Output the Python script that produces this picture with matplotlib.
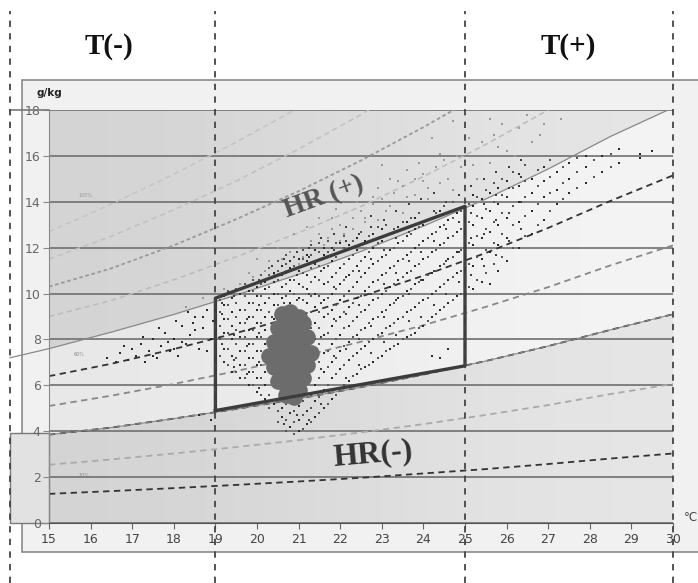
import matplotlib.pyplot as plt
from matplotlib.patches import Rectangle
from matplotlib.colors import LinearSegmentedColormap

# relative humidity curves (g/kg)
rh_T = [15, 16.5, 18, 19.5, 21, 22.5, 24, 25.5, 27, 28.5, 30]
rh10 = [1.27, 1.39, 1.52, 1.66, 1.81, 1.97, 2.16, 2.35, 2.57, 2.81, 3.03]
rh20 = [2.54, 2.77, 3.03, 3.31, 3.61, 3.95, 4.31, 4.71, 5.14, 5.62, 6.06]
rh30 = [3.85, 4.16, 4.55, 4.97, 5.42, 5.92, 6.47, 7.06, 7.71, 8.42, 9.1]
rh40 = [5.1, 5.55, 6.06, 6.62, 7.23, 7.9, 8.62, 9.42, 10.28, 11.23, 12.1]
rh50 = [6.4, 6.94, 7.58, 8.28, 9.04, 9.87, 10.78, 11.77, 12.86, 14.04, 15.15]
rh60 = [7.6, 8.32, 9.09, 9.93, 10.84, 11.84, 12.94, 14.12, 15.43, 16.85, 18.1]
rh70 = [9.0, 9.7, 10.6, 11.6, 12.65, 13.8, 15.1, 16.5, 18.0]
rh80 = [10.3, 11.1, 12.1, 13.24, 14.46, 15.8, 17.25, 18.8]
rh90 = [11.5, 12.5, 13.65, 14.9, 16.3, 17.8, 19.4]
rh100 = [12.7, 13.9, 15.2, 16.6, 18.1]

# comfort box
box_T = [19, 19, 25, 25, 19]
box_w = [4.9, 9.8, 13.8, 6.85, 4.9]

zone_edges = [14.06, 19, 25, 30]

# measured points, dark ones by column
left_T = [16.4, 16.6, 16.7, 16.9, 17.0, 17.1, 17.2, 17.3, 17.4, 17.5, 17.6, 17.7, 17.8, 17.9,
          18.0, 18.1, 18.2, 18.3, 18.4, 18.5, 18.6, 18.7, 18.8, 18.9, 18.95, 18.5, 18.0, 17.5,
          18.8, 18.2, 18.6, 18.9, 16.8, 17.25, 17.65, 18.05, 18.45, 18.7, 18.35, 17.85]
left_w = [7.2, 7.0, 7.4, 7.1, 7.6, 7.3, 7.8, 7.0, 7.5, 8.0, 7.2, 7.7, 8.3, 7.5,
          8.0, 7.3, 8.6, 7.8, 8.2, 9.0, 7.6, 8.5, 9.3, 8.0, 8.8, 8.4, 7.6, 7.3,
          7.5, 7.9, 4.7, 4.5, 7.7, 8.1, 8.5, 8.8, 8.7, 9.0, 9.2, 7.9]

col_T = [19.2, 19.4, 19.6, 19.8, 20.0, 20.2, 20.4, 20.6, 20.8, 21.0, 21.2, 21.4, 21.6, 21.8,
         22.0, 22.2, 22.4, 22.6, 22.8, 23.0, 23.2, 23.4, 23.6, 23.8, 24.0, 24.2, 24.4, 24.6,
         24.8, 25.2, 25.4, 25.6, 25.8, 26.0, 26.3, 26.6, 26.9, 27.2, 27.5, 27.9, 28.3, 28.7,
         29.2, 29.5]
col_w = [
    [7.0, 7.6, 8.3, 8.9, 9.5, 9.9],
    [6.6, 7.3, 8.0, 8.6, 9.2, 9.8],
    [6.3, 6.9, 7.5, 8.1, 8.7, 9.3, 10.0],
    [6.0, 6.6, 7.2, 7.8, 8.4, 9.0, 9.6, 10.1],
    [5.7, 6.3, 6.9, 7.5, 8.1, 8.7, 9.3, 9.9, 10.3],
    [5.4, 6.0, 6.6, 7.8, 8.4, 9.0, 9.6, 10.2, 10.5],
    [5.2, 8.9, 9.5, 10.0, 10.5, 10.9],
    [4.6, 5.0, 9.3, 9.8, 10.3, 10.8, 11.2],
    [4.2, 4.8, 9.6, 10.1, 10.6, 11.1, 11.4],
    [4.0, 4.5, 5.1, 9.2, 9.8, 10.4, 11.0, 11.5],
    [4.3, 4.9, 8.9, 9.6, 10.2, 10.8, 11.4, 11.7],
    [4.6, 5.3, 6.0, 7.2, 8.0, 8.7, 9.4, 10.0, 10.7, 11.3, 11.9],
    [5.0, 5.8, 6.6, 7.4, 8.2, 9.0, 9.7, 10.4, 11.1, 11.7, 12.0],
    [5.4, 6.3, 7.0, 7.8, 8.6, 9.3, 10.0, 10.7, 11.4, 12.0],
    [5.9, 6.7, 7.5, 8.2, 9.0, 9.7, 10.4, 11.1, 11.8, 12.2],
    [6.2, 7.1, 7.9, 8.6, 9.4, 10.1, 10.8, 11.5, 12.1],
    [6.5, 7.4, 8.2, 9.0, 9.8, 10.5, 11.2, 11.9, 12.4],
    [6.8, 7.7, 8.5, 9.3, 10.1, 10.9, 11.6, 12.3],
    [7.0, 8.0, 8.9, 9.7, 10.5, 11.3, 12.0, 12.6],
    [7.3, 8.3, 9.2, 10.0, 10.8, 11.6, 12.3, 12.8],
    [7.6, 8.6, 9.5, 10.3, 11.1, 11.9, 12.6],
    [7.8, 8.9, 9.8, 10.6, 11.4, 12.2, 12.9],
    [8.1, 9.2, 10.1, 10.9, 11.7, 12.5, 13.1],
    [8.3, 9.4, 10.4, 11.2, 12.0, 12.8, 13.3],
    [8.6, 9.7, 10.6, 11.5, 12.3, 13.0],
    [7.3, 9.0, 10.0, 10.9, 11.8, 12.6, 13.3],
    [7.2, 9.3, 10.3, 11.2, 12.1, 12.9, 13.6],
    [7.6, 9.6, 10.6, 11.5, 12.4, 13.2],
    [9.9, 10.9, 11.8, 12.7, 13.5],
    [10.2, 11.2, 12.1, 13.0, 13.8, 14.3],
    [10.5, 11.5, 12.4, 13.3, 14.1],
    [10.4, 11.8, 12.7, 13.6, 14.4],
    [11.0, 12.1, 13.0, 13.9, 14.6],
    [11.4, 12.4, 13.3, 14.2, 14.9],
    [12.0, 13.1, 14.0, 14.7, 15.2],
    [12.6, 13.6, 14.4, 15.0],
    [13.2, 14.2, 14.9, 15.5],
    [13.9, 14.5, 15.3],
    [14.4, 15.0, 15.7],
    [14.8, 15.5, 16.0],
    [15.3, 16.0],
    [15.7, 16.3],
    [15.9, 16.1],
    [16.2],
]

col2_T = [19.1, 19.3, 19.5, 19.7, 19.9, 20.1, 20.3, 20.5, 20.7, 20.9, 21.1, 21.3, 21.5, 21.7,
          21.9, 22.1, 22.3, 22.5, 22.7, 22.9, 23.1, 23.3, 23.5, 23.7, 23.9, 24.1, 24.3, 24.5,
          24.7, 24.9, 25.1, 25.3, 25.5, 25.7, 25.9, 26.15, 26.45, 26.75, 27.05, 27.35, 27.7,
          28.1, 28.5]
col2_w = [
    [7.3, 8.0, 8.6, 9.2, 9.7],
    [6.9, 7.6, 8.3, 8.9, 9.5, 10.1],
    [6.6, 7.2, 7.8, 8.4, 9.0, 9.6, 10.2],
    [6.3, 6.9, 7.5, 8.1, 8.7, 9.3, 9.9, 10.4],
    [6.0, 6.6, 7.2, 7.8, 8.4, 9.0, 9.6, 10.1, 10.6],
    [5.6, 6.3, 6.9, 7.5, 8.1, 8.7, 9.3, 9.9, 10.4, 10.8],
    [5.0, 5.6, 9.2, 9.8, 10.3, 10.8, 11.1],
    [4.4, 4.9, 9.5, 10.0, 10.6, 11.0, 11.4],
    [4.0, 4.5, 5.2, 9.9, 10.4, 10.9, 11.3, 11.7],
    [3.9, 4.4, 4.9, 9.4, 10.0, 10.6, 11.2, 11.6],
    [4.1, 4.7, 5.3, 9.1, 9.7, 10.3, 10.9, 11.5, 11.9],
    [4.4, 5.0, 5.6, 8.5, 9.2, 9.9, 10.5, 11.1, 11.7, 12.1],
    [4.8, 5.5, 6.3, 7.0, 7.8, 8.5, 9.2, 9.9, 10.6, 11.2, 11.8, 12.2],
    [5.2, 6.0, 6.8, 7.5, 8.3, 9.1, 9.8, 10.5, 11.2, 11.8, 12.3],
    [5.6, 6.5, 7.2, 8.0, 8.8, 9.5, 10.2, 10.9, 11.6, 12.2],
    [6.0, 6.9, 7.7, 8.5, 9.2, 9.9, 10.6, 11.3, 12.0, 12.5],
    [6.4, 7.3, 8.1, 8.8, 9.6, 10.3, 11.0, 11.7, 12.3],
    [6.7, 7.6, 8.4, 9.2, 9.9, 10.7, 11.4, 12.1, 12.7],
    [6.9, 7.9, 8.7, 9.5, 10.3, 11.1, 11.8, 12.5],
    [7.2, 8.2, 9.0, 9.8, 10.6, 11.4, 12.2, 12.9],
    [7.5, 8.5, 9.3, 10.1, 10.9, 11.7, 12.5, 13.0],
    [7.7, 8.7, 9.6, 10.4, 11.2, 12.0, 12.8],
    [8.0, 9.0, 9.9, 10.7, 11.5, 12.3, 13.1],
    [8.2, 9.3, 10.2, 11.0, 11.8, 12.6, 13.3],
    [8.5, 9.6, 10.5, 11.3, 12.1, 12.9, 13.5],
    [8.8, 9.8, 10.8, 11.6, 12.4, 13.2],
    [9.1, 10.1, 11.0, 11.9, 12.7, 13.5],
    [9.4, 10.4, 11.3, 12.2, 13.0, 13.8],
    [9.7, 10.7, 11.6, 12.5, 13.3, 14.0],
    [10.0, 11.0, 11.9, 12.8, 13.6],
    [10.3, 11.3, 12.2, 13.1, 13.9],
    [10.6, 11.6, 12.5, 13.4, 14.2],
    [10.9, 11.9, 12.8, 13.7, 14.5],
    [11.3, 12.2, 13.1, 14.0, 14.8],
    [11.6, 12.6, 13.5, 14.3, 15.0],
    [12.0, 13.0, 13.8, 14.6, 15.3],
    [12.5, 13.4, 14.2, 14.9, 15.6],
    [13.0, 13.9, 14.7, 15.4],
    [13.6, 14.4, 15.1, 15.8],
    [14.1, 14.8, 15.5],
    [14.6, 15.3, 15.9],
    [15.1, 15.8],
    [15.5, 16.1],
]

col3_T = [19.15, 19.45, 19.75, 20.05, 20.35, 20.65, 20.95, 21.25, 21.55, 21.85, 22.15, 22.45,
          22.75, 23.05, 23.35, 23.65, 23.95, 24.25, 24.55, 24.85, 25.15, 25.45, 25.75, 26.05,
          26.35]
col3_w = [
    [7.8, 9.1, 9.6],
    [6.8, 7.1, 8.2, 9.9],
    [6.5, 7.7, 8.9, 10.3],
    [5.9, 7.0, 8.3, 9.5, 10.6],
    [5.3, 9.0, 10.7, 11.2],
    [4.3, 9.6, 10.9, 11.5],
    [4.7, 5.3, 9.7, 10.8, 11.8],
    [4.5, 8.8, 10.0, 11.6, 12.0],
    [5.2, 6.7, 8.1, 9.6, 11.0, 12.4],
    [5.8, 7.3, 8.9, 10.3, 11.9, 12.6],
    [6.3, 7.6, 9.1, 10.7, 12.3, 12.9],
    [6.9, 8.0, 9.5, 11.0, 12.6],
    [7.4, 8.6, 10.0, 11.5, 12.9, 13.4],
    [7.9, 9.0, 10.4, 11.9, 13.2],
    [8.2, 9.7, 10.9, 12.4, 13.6],
    [8.8, 10.0, 11.4, 12.7, 13.9],
    [9.0, 10.6, 11.8, 13.1, 14.1],
    [9.5, 11.0, 12.3, 13.6, 14.4],
    [10.0, 11.4, 12.8, 14.0],
    [10.5, 11.8, 13.1, 14.3],
    [10.8, 12.4, 13.5, 14.7],
    [11.2, 12.6, 13.9, 15.0],
    [11.7, 13.2, 14.3, 15.3],
    [12.3, 13.5, 14.6, 15.5],
    [12.8, 14.0, 15.1, 15.8],
]

# lighter points above the box
light_T = [19.6, 19.9, 20.2, 20.4, 20.6, 20.8, 21.0, 21.1, 21.3, 21.5, 21.6, 21.8, 22.0, 22.1,
           22.3, 22.5, 22.6, 22.8, 23.0, 23.1, 23.3, 23.5, 23.6, 23.8, 24.0, 24.1, 24.3, 24.5,
           24.6, 24.8, 25.0, 25.2, 25.4, 25.7, 26.0, 26.3, 26.6, 22.2, 23.0, 24.2, 25.6, 26.9,
           24.7, 20.9, 21.9, 22.9, 23.9, 20.0, 21.2, 22.4, 18.3, 18.7, 19.2,
           21.4, 21.7, 22.0, 22.3, 22.6, 22.9, 23.2, 23.5, 23.8, 24.1, 24.4, 24.7, 25.0, 25.3,
           25.6, 21.0, 20.7, 21.8, 22.5, 23.2, 23.6, 24.4, 25.1, 25.9, 26.5, 20.3, 21.5, 22.8,
           24.0, 24.9, 25.8, 22.0, 23.4, 19.8, 20.5, 26.2, 26.8, 27.3]
light_w = [10.4, 10.7, 11.0, 10.8, 11.5, 11.8, 12.0, 11.6, 12.3, 12.6, 12.1, 12.8, 13.0, 12.6,
           13.3, 13.6, 13.1, 13.9, 14.1, 13.6, 14.4, 14.7, 14.2, 15.0, 15.2, 14.6, 15.5, 15.8,
           15.0, 16.0, 16.3, 15.6, 16.6, 16.9, 16.2, 17.2, 16.6, 14.8, 15.6, 16.8, 17.6, 17.4,
           17.5, 12.6, 13.7, 14.6, 15.7, 11.5, 12.9, 14.0, 9.4, 9.8, 10.2,
           11.9, 12.4, 12.3, 12.8, 13.3, 13.2, 13.8, 13.5, 14.3, 14.1, 14.8, 14.5, 15.2, 15.0,
           15.7, 11.3, 11.0, 13.3, 14.4, 15.0, 15.4, 16.1, 16.8, 17.4, 17.8, 11.4, 13.3, 14.2,
           14.9, 15.5, 16.4, 14.0, 14.9, 10.9, 12.0, 16.0, 16.9, 17.6]

# dense core of the cloud
core_T = [20.5, 20.7, 20.9, 21.1, 20.4, 20.6, 20.8, 21.0, 21.2, 20.3, 20.5, 20.7, 20.9, 21.1,
          21.3, 20.4, 20.6, 20.8, 21.0, 21.2, 20.5, 20.7, 20.9, 21.1, 20.6, 20.8, 21.0, 20.7,
          20.9, 21.0]
core_w = [6.2, 6.0, 6.1, 6.3, 6.8, 6.7, 6.6, 6.8, 6.9, 7.3, 7.4, 7.2, 7.3, 7.5,
          7.4, 7.9, 8.0, 7.8, 8.0, 8.1, 8.5, 8.6, 8.4, 8.7, 9.1, 9.2, 9.0, 5.6,
          5.5, 5.8]


def flatten(ts, wss):
    xs, ys = [], []
    for t, ws in zip(ts, wss):
        xs += [t] * len(ws)
        ys += ws
    return xs, ys


fig = plt.figure(figsize=(6.98, 5.83), dpi=100)
fig.patches.append(Rectangle((22 / 698, 31 / 583), 690 / 698, 472 / 583, transform=fig.transFigure,
                             facecolor='#f1f1f1', edgecolor='#8a8a8a', lw=1.2, zorder=-5))
ax = fig.add_axes([49 / 698, 60 / 583, 624 / 698, 413 / 583])

# shaded zones with a soft left-to-right gradient
mid_cmap = LinearSegmentedColormap.from_list('mid', ['#e8e8e8', '#f4f4f4'])
dark_cmap = LinearSegmentedColormap.from_list('drk', ['#d4d4d4', '#e6e6e6'])
ax.imshow([[0, 1]], extent=[15, 30, 0, 18], aspect='auto', cmap=mid_cmap,
          interpolation='bicubic', zorder=0)
upper = ax.fill_between(rh_T, rh60, 18, facecolor='none', edgecolor='none')
lower = ax.fill_between(rh_T, 0, rh30, facecolor='none', edgecolor='none')
for zone in [upper, lower]:
    im = ax.imshow([[0, 1]], extent=[15, 30, 0, 18], aspect='auto', cmap=dark_cmap,
                   interpolation='bicubic', zorder=0)
    im.set_clip_path(zone.get_paths()[0], ax.transData)
ax.set_xlim(15, 30)
ax.set_ylim(0, 18)
ax.add_patch(Rectangle((zone_edges[0], 0), 15 - zone_edges[0], 3.93, facecolor='#e2e2e2',
                       edgecolor='#7a7a7a', lw=1, clip_on=False, zorder=1))

for y in range(0, 19, 2):
    ax.axhline(y, color='#6f6f6f', lw=1.2, zorder=1)
ax.plot([zone_edges[0], 15], [18, 18], color='#777777', lw=1.2, clip_on=False)

dash = (0, (3.5, 2.5))
ax.plot(rh_T, rh10, color='#333333', lw=1.3, ls=dash, zorder=2)
ax.plot(rh_T, rh20, color='#aaaaaa', lw=1.3, ls=dash, zorder=2)
ax.plot(rh_T, rh30, color='#333333', lw=1.3, ls=dash, zorder=2)
ax.plot(rh_T, rh30, color='#888888', lw=0.8, zorder=2)
ax.plot(rh_T, rh40, color='#888888', lw=1.3, ls=dash, zorder=2)
ax.plot(rh_T, rh50, color='#333333', lw=1.3, ls=dash, zorder=2)
ax.plot(rh_T, rh60, color='#888888', lw=0.9, zorder=2)
ax.plot([zone_edges[0], 15], [7.2, 7.6], color='#888888', lw=0.9, clip_on=False)
ax.plot(rh_T[:9], rh70, color='#bbbbbb', lw=1.1, ls=dash, zorder=2)
ax.plot(rh_T[:8], rh80, color='#999999', lw=1.3, ls=(0, (2, 1.5)), zorder=2)
ax.plot(rh_T[:7], rh90, color='#c0c0c0', lw=1.1, ls=dash, zorder=2)
ax.plot(rh_T[:5], rh100, color='#c4c4c4', lw=1.1, ls=dash, zorder=2)

ax.text(15.7, 14.2, '100%', fontsize=3.5, color='#999999')
ax.text(15.6, 7.3, '60%', fontsize=3.5, color='#888888')
ax.text(15.7, 2.0, '10%', fontsize=3.5, color='#888888')

# measurements
x1, y1 = flatten(col_T, col_w)
x2, y2 = flatten(col2_T, col2_w)
x3, y3 = flatten(col3_T, col3_w)
ax.plot(light_T, light_w, 's', ms=2.0, color='#9a9a9a', mew=0, zorder=3)
ax.plot(left_T + x1, left_w + y1, 's', ms=2.1, color='#2a2a2a', mew=0, zorder=3)
ax.plot(x2, y2, 's', ms=2.1, color='#555555', mew=0, zorder=3)
ax.plot(x3, y3, 's', ms=2.1, color='#404040', mew=0, zorder=3)
ax.plot(core_T, core_w, 'o', ms=12, color='#6c6c6c', mew=0, zorder=3)

ax.plot(box_T, box_w, color='#3c3c3c', lw=2.4, zorder=4)

ax.text(21.6, 14.2, 'HR (+)', fontsize=20, fontweight='bold', family='Liberation Serif',
        color='#555555', rotation=20, ha='center', va='center', zorder=5)
ax.text(22.8, 3.0, 'HR(-)', fontsize=23, fontweight='bold', family='Liberation Serif',
        color='#333333', rotation=5, ha='center', va='center', zorder=5)

for x in zone_edges:
    ax.axvline(x, ymin=-0.145, ymax=1.24, color='#444444', lw=1.3, ls=(0, (3.5, 3.5)),
               clip_on=False, zorder=6)

ax.text(16.44, 20.75, 'T(-)', fontsize=21, fontweight='bold', family='Liberation Serif',
        ha='center', va='center', color='#111111')
ax.text(27.48, 20.75, 'T(+)', fontsize=21, fontweight='bold', family='Liberation Serif',
        ha='center', va='center', color='#111111')
ax.text(14.7, 18.6, 'g/kg', fontsize=7.5, fontweight='bold', color='#222222')
ax.text(30.25, 0.1, '°C', fontsize=8.5, color='#444444', clip_on=False)

for s in ['top', 'right']:
    ax.spines[s].set_visible(False)
ax.spines['left'].set_color('#8a8a8a')
ax.spines['bottom'].set_color('#555555')
ax.set_xticks(range(15, 31))
ax.set_yticks(range(0, 19, 2))
ax.tick_params(axis='x', length=4, color='#666666', labelsize=9, labelcolor='#444444', pad=3)
ax.tick_params(axis='y', length=4, color='#888888', labelsize=9, labelcolor='#666666', pad=2)

fig.savefig('out.png', dpi=100)
